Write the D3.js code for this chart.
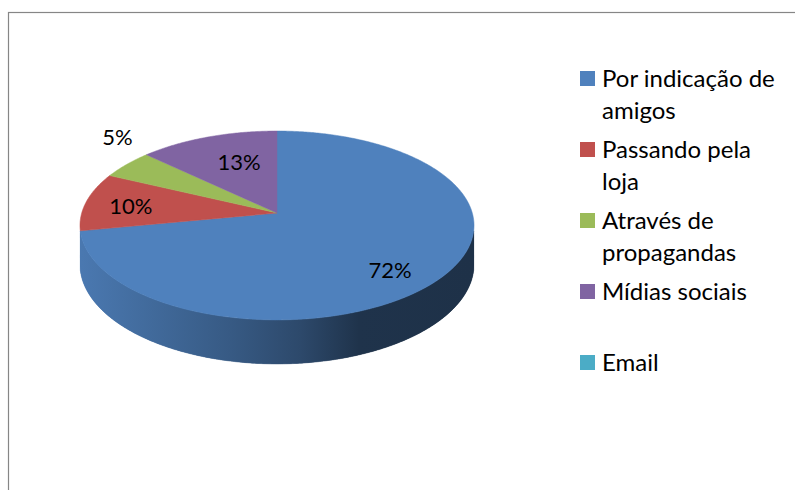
<!DOCTYPE html>
<html>
<head>
<meta charset="utf-8">
<script src="https://cdn.jsdelivr.net/npm/d3@7"></script>
<style>
  body { margin: 0; background: #fff; }
  svg text { font-family: Lato, "Open Sans", sans-serif; fill: #000; }
</style>
</head>
<body>
<svg id="vis"></svg>
<script>
const width = 795;
const height = 490;

// data
const categories = ["Por indicação de amigos", "Passando pela loja", "Através de propagandas", "Mídias sociais", "Email"];
const legendLines = [["Por indicação de", "amigos"], ["Passando pela", "loja"], ["Através de", "propagandas"], ["Mídias sociais"], ["Email"]];
const values = [72, 10, 5, 13, 0];
const labels = ["72%", "10%", "5%", "13%", ""];
const colours = ["#4f81bd", "#c0504d", "#9bbb59", "#8064a2", "#4bacc6"];

// label placement (radius fraction, angle nudge in degrees)
const labelRadius = [0.78, 0.76, 1.3, 0.63, 0];
const labelNudge = [7, -1.5, 11, 4, 0];

// 3d projection of the pie disc
const cx = 277, cy = 213;
const rx = 195.3, ry = 92.8, depth = 38.2, persp = 0.132;

function project(a, r, h) {
  const X = r * Math.sin(a);
  const Z = -r * Math.cos(a);
  const w = 1 - persp * Z;
  return [cx + rx * X / w, cy + (ry * Z + depth * h) / w];
}

function arcPoints(a0, a1, r, h) {
  const n = Math.max(2, Math.ceil((a1 - a0) / 0.01));
  return d3.range(n + 1).map(i => project(a0 + (a1 - a0) * i / n, r, h));
}

function rimPath(lo, hi) {
  const pts = arcPoints(lo, hi, 1, 0).concat(arcPoints(lo, hi, 1, 1).reverse());
  return drawLines(pts) + "Z";
}

const drawLines = d3.line();

const svg = d3.select("#vis")
  .attr("width", width)
  .attr("height", height);

// chart frame (right / bottom edges fall outside the picture)
svg.append("rect")
  .attr("x", 8.5)
  .attr("y", 12.5)
  .attr("width", 900)
  .attr("height", 600)
  .attr("fill", "none")
  .attr("stroke", "#868686")
  .attr("stroke-width", 1.2);

const pie = d3.pie().sort(null).value(d => d)(values);

// side gradients, lit from the left
const defs = svg.append("defs");
const sideStops = [[0, 0.2], [0.18, 0.55], [0.38, 1.0], [0.56, 1.6], [0.71, 2.6], [1, 2.7]];
colours.forEach((c, i) => {
  const g = defs.append("linearGradient")
    .attr("id", "side" + i)
    .attr("gradientUnits", "userSpaceOnUse")
    .attr("x1", cx - rx).attr("x2", cx + rx)
    .attr("y1", 0).attr("y2", 0);
  sideStops.forEach(s => {
    g.append("stop")
      .attr("offset", s[0])
      .attr("stop-color", d3.color(c).darker(s[1]).formatHex());
  });
});

// silhouette of the rim: between the two horizontal extremes
const rimFrom = Math.acos(-persp);
const rimTo = 2 * Math.PI - rimFrom;
const front = pie.find(p => p.startAngle <= Math.PI && p.endAngle >= Math.PI);

const sides = svg.append("g");
sides.append("path")
  .attr("d", rimPath(rimFrom, rimTo))
  .attr("fill", `url(#side${front.index})`);

// slice rims where they clearly face the viewer
const faceFrom = Math.acos(-0.19);
const faceTo = 2 * Math.PI - faceFrom;
pie.forEach((p, i) => {
  const lo = Math.max(p.startAngle, faceFrom);
  const hi = Math.min(p.endAngle, faceTo);
  if (hi <= lo) return;
  sides.append("path")
    .attr("d", rimPath(lo, hi))
    .attr("fill", `url(#side${i})`)
    .attr("stroke", `url(#side${i})`)
    .attr("stroke-width", 0.5);
});

const tops = svg.append("g");
pie.forEach((p, i) => {
  if (p.endAngle - p.startAngle <= 0) return;
  const pts = [project(0, 0, 0)].concat(arcPoints(p.startAngle, p.endAngle, 1, 0));
  tops.append("path")
    .attr("d", drawLines(pts) + "Z")
    .attr("fill", colours[i])
    .attr("stroke", colours[i])
    .attr("stroke-width", 0.5);
});

// data labels
svg.append("g")
  .selectAll("text")
  .data(pie.filter((p, i) => labels[i] !== ""))
  .join("text")
  .attr("text-anchor", "middle")
  .attr("font-size", 22)
  .each(function (p) {
    const i = p.index;
    const a = (p.startAngle + p.endAngle) / 2 + labelNudge[i] * Math.PI / 180;
    const [x, y] = project(a, labelRadius[i], 0);
    d3.select(this).attr("x", x).attr("y", y + 8).text(labels[i]);
  });

// legend
const legendX = 580;
const legendTop = 71;
const entryStep = 71;
const lineStep = 32;

const legend = svg.append("g")
  .selectAll("g")
  .data(categories)
  .join("g")
  .attr("transform", (d, i) => `translate(${legendX}, ${legendTop + i * entryStep})`);

legend.append("rect")
  .attr("width", 15)
  .attr("height", 15)
  .attr("fill", (d, i) => colours[i]);

legend.append("text")
  .attr("x", 22)
  .attr("y", 16)
  .attr("font-size", 24)
  .selectAll("tspan")
  .data((d, i) => legendLines[i])
  .join("tspan")
  .attr("x", 22)
  .attr("dy", (d, j) => j === 0 ? 0 : lineStep)
  .text(d => d);
</script>
</body>
</html>
